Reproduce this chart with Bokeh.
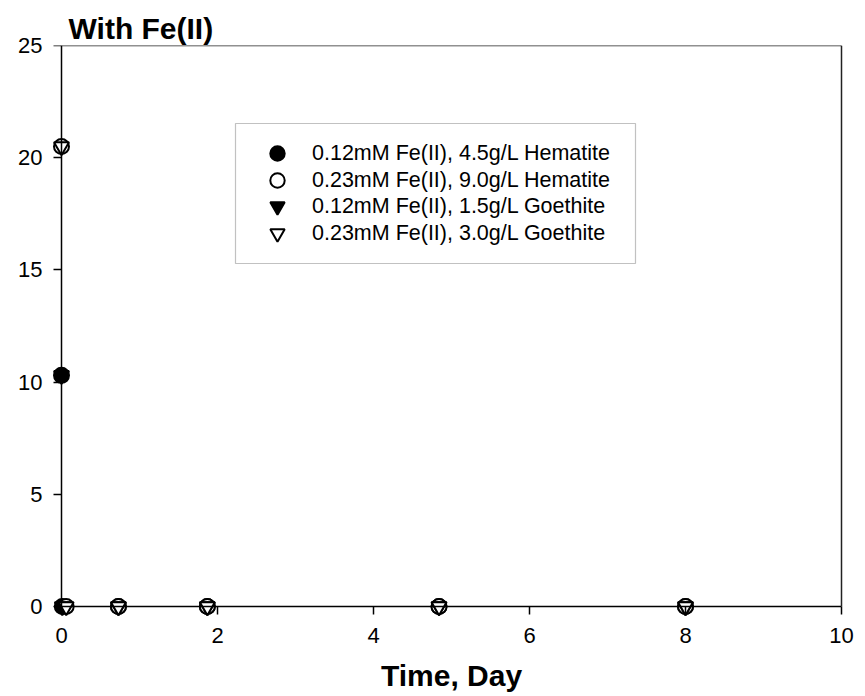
from bokeh.plotting import figure
from bokeh.models import (Legend, LegendItem, FixedTicker, LinearAxis,
                          BoxAnnotation, Range1d)
from bokeh.embed import file_html
from bokeh.resources import INLINE

# Fe(II) remaining in solution over time, four suspensions
times_a = [0.0, 0.01, 0.73, 1.87, 4.84, 8.0]
times_b = [0.0, 0.06, 0.73, 1.87, 4.84, 8.0]

hem_012 = [10.3, 0, 0, 0, 0, 0]   # 0.12mM Fe(II), 4.5g/L Hematite
hem_023 = [20.5, 0, 0, 0, 0, 0]   # 0.23mM Fe(II), 9.0g/L Hematite
goe_012 = [10.3, 0, 0, 0, 0, 0]   # 0.12mM Fe(II), 1.5g/L Goethite
goe_023 = [20.5, 0, 0, 0, 0, 0]   # 0.23mM Fe(II), 3.0g/L Goethite

labels = [
    "0.12mM Fe(II), 4.5g/L Hematite",
    "0.23mM Fe(II), 9.0g/L Hematite",
    "0.12mM Fe(II), 1.5g/L Goethite",
    "0.23mM Fe(II), 3.0g/L Goethite",
]

x_ticks = [0, 2, 4, 6, 8, 10]
y_ticks = [0, 5, 10, 15, 20, 25]
x_lo, x_hi = 0, 10
y_lo, y_hi = 0, 25

FONT = "Liberation Sans"

# a little room around the axes so markers sitting on them are not cut
pad_x = 10 / 78
pad_y = 250 / 561

p = figure(
    width=865, height=696,
    x_range=Range1d(x_lo - pad_x, x_hi + pad_x), y_range=Range1d(y_lo - pad_y, y_hi),
    output_backend="svg", toolbar_location=None,
    min_border_left=51, min_border_right=14,
    min_border_top=45, min_border_bottom=80,
)
p.background_fill_color = "white"
p.border_fill_color = "white"
p.grid.visible = False
p.outline_line_color = None

# the default axes only carry the numbers and the axis title
xlab = p.xaxis[0]
ylab = p.yaxis[0]
for ax in (xlab, ylab):
    ax.axis_line_color = None
    ax.major_tick_line_color = None
    ax.minor_tick_line_color = None
    ax.major_tick_in = 0
    ax.major_tick_out = 0
    ax.minor_tick_out = 0
    ax.major_label_text_font = FONT
    ax.major_label_text_font_size = "22px"
    ax.major_label_text_color = "black"
xlab.ticker = FixedTicker(ticks=x_ticks)
ylab.ticker = FixedTicker(ticks=y_ticks)
xlab.major_label_standoff = 11
ylab.major_label_standoff = 9

xlab.axis_label = "Time, Day"
xlab.axis_label_text_font = FONT
xlab.axis_label_text_font_size = "30px"
xlab.axis_label_text_font_style = "bold"
xlab.axis_label_text_color = "black"
xlab.axis_label_standoff = 13

# axis lines and tick marks drawn through the origin
def line_axis(loc, bnds, ticks, tick_len, color="black"):
    return LinearAxis(
        fixed_location=loc, bounds=bnds, ticker=FixedTicker(ticks=ticks),
        axis_line_color=color, axis_line_width=1.5,
        major_tick_line_color="black", major_tick_line_width=1.5,
        major_tick_in=0, major_tick_out=tick_len,
        minor_tick_line_color=None, major_label_text_color=None,
        major_label_text_font_size="0px",
    )

p.add_layout(line_axis(y_lo, (x_lo, x_hi), x_ticks, 8), "below")
p.add_layout(line_axis(x_lo, (y_lo, y_hi), y_ticks, 8), "left")
# plain top and right edges of the plotting box
p.add_layout(line_axis(y_hi, (x_lo, x_hi), [], 0, "#222222"), "above")
p.add_layout(line_axis(x_hi, (y_lo, y_hi), [], 0, "#222222"), "right")

size = 15
r1 = p.scatter(times_a, hem_012, marker="circle", size=size,
               fill_color="black", line_color="black", line_width=2)
r2 = p.scatter(times_b, hem_023, marker="circle", size=size,
               fill_color="white", line_color="black", line_width=2)
r3 = p.scatter(times_a, goe_012, marker="inverted_triangle", size=size,
               fill_color="black", line_color="black", line_width=2)
r4 = p.scatter(times_b, goe_023, marker="inverted_triangle", size=size,
               fill_color="white", line_color="black", line_width=2)

# legend frame
box = BoxAnnotation(left=184, right=584, bottom=353, top=493,
                    left_units="screen", right_units="screen",
                    bottom_units="screen", top_units="screen",
                    fill_color="white", fill_alpha=1,
                    line_color="#333333", line_width=1.2)
p.add_layout(box)

# one entry per row so the symbols can stay large while rows sit close together
row_bottoms = [445, 418, 392, 365]
for label, rend, yb in zip(labels, [r1, r2, r3, r4], row_bottoms):
    lg = Legend(
        items=[LegendItem(label=label, renderers=[rend])],
        location=(196, yb), orientation="vertical",
        border_line_color=None, background_fill_alpha=0,
        label_text_font=FONT, label_text_font_size="21.5px", label_text_color="black",
        glyph_width=60, glyph_height=36, padding=0, margin=0, label_standoff=5,
    )
    p.add_layout(lg, "center")

p.title.text = "With Fe(II)"
p.title.align = "left"
p.title.offset = 17
p.title.standoff = 2
p.title.text_font = FONT
p.title.text_font_size = "30px"
p.title.text_font_style = "bold"
p.title.text_color = "black"

open("out.html", "w").write(file_html(p, INLINE))
